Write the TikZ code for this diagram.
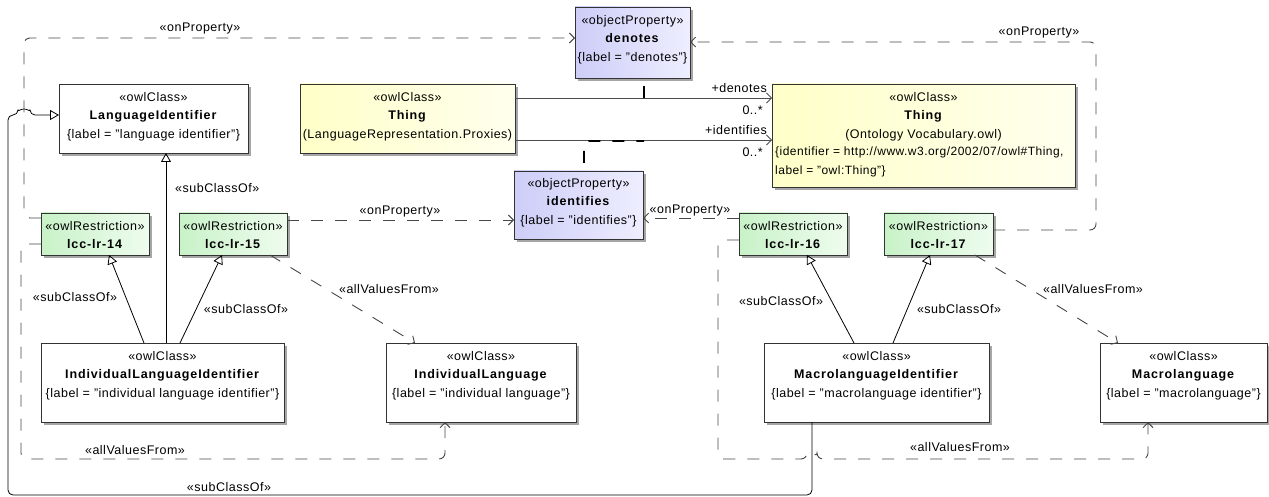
\documentclass[tikz,border=0pt]{standalone}
\usepackage{fontspec}
\setmainfont{Liberation Sans}[LetterSpace=4,BoldFeatures={LetterSpace=7}]
\usetikzlibrary{arrows.meta,shadows}
\definecolor{yelL}{RGB}{255,255,200}
\definecolor{yelR}{RGB}{255,255,238}
\definecolor{prpL}{RGB}{205,205,248}
\definecolor{prpR}{RGB}{238,238,255}
\definecolor{grnL}{RGB}{200,242,200}
\definecolor{grnR}{RGB}{238,252,238}
\begin{document}
\begin{tikzpicture}[x=1pt,y=-1pt,font=\fontsize{12.5}{18.5}\selectfont,
  box/.style={draw=black!80,line width=0.8pt,fill=white,
    drop shadow={shadow xshift=3pt,shadow yshift=-3pt,fill=black!35,opacity=1},
    anchor=north west,inner sep=0pt,outer sep=0pt},
  yel/.style={box,left color=yelL,right color=yelR},
  prop/.style={box,left color=prpL,right color=prpR},
  rst/.style={box,left color=grnL,right color=grnR},
  txt/.style={anchor=north,align=center,inner sep=0pt},
  lbl/.style={inner sep=0pt},
  gen/.style={draw=black,line width=0.8pt,-{Triangle[open,length=9pt,width=10pt]}},
  dep/.style={draw=black!72,line width=0.9pt,dash pattern=on 12pt off 12pt,
    -{Straight Barb[length=5pt,width=10pt]},rounded corners=6pt},
  asc/.style={draw=black!70,line width=0.8pt,-{Straight Barb[length=5pt,width=10pt]}},
  acl/.style={draw=black,line width=1.8pt,dash pattern=on 12pt off 12pt,dash phase=16pt}]
\useasboundingbox (0,0) rectangle (1269,497);
% boxes
\node[box,minimum width=189pt,minimum height=69pt] (li) at (59,84) {};
\node[yel,minimum width=215pt,minimum height=69pt] (thp) at (300,84) {};
\node[prop,minimum width=115pt,minimum height=71pt] (den) at (575,7) {};
\node[prop,minimum width=129pt,minimum height=68pt] (idf) at (514,171) {};
\node[yel,minimum width=303pt,minimum height=103pt] (tho) at (772,84) {};
\node[rst,minimum width=108pt,minimum height=42pt] (r14) at (41,213) {};
\node[rst,minimum width=108pt,minimum height=42pt] (r15) at (179,213) {};
\node[rst,minimum width=108pt,minimum height=42pt] (r16) at (739,213) {};
\node[rst,minimum width=109pt,minimum height=42pt] (r17) at (884,213) {};
\node[box,minimum width=243pt,minimum height=79pt] (ili) at (41,343) {};
\node[box,minimum width=190pt,minimum height=79pt] (il) at (386,343) {};
\node[box,minimum width=225pt,minimum height=79pt] (mli) at (764,343) {};
\node[box,minimum width=167pt,minimum height=79pt] (ml) at (1100,343) {};
% texts
\node[txt] (li-t) at ([yshift=-8pt]li.north) {«owlClass»\\\textbf{LanguageIdentifier}\\\{label = "language identifier"\}};
\node[txt] (thp-t) at ([yshift=-8pt]thp.north) {«owlClass»\\\textbf{Thing}\\(LanguageRepresentation.Proxies)};
\node[txt] (den-t) at ([yshift=-8pt]den.north) {«objectProperty»\\\textbf{denotes}\\\{label = "denotes"\}};
\node[txt] (idf-t) at ([yshift=-7pt]idf.north) {«objectProperty»\\\textbf{identifies}\\\{label = "identifies"\}};
\node[txt] (tho-t) at ([yshift=-8pt]tho.north) {«owlClass»\\\textbf{Thing}\\(Ontology Vocabulary.owl)};
\node[anchor=north west,align=left,inner sep=0pt,font=\fontsize{12}{18.5}\selectfont] (tho-p) at ([xshift=3pt,yshift=-63pt]tho.north west) {\{identifier = http://www.w3.org/2002/07/owl\#Thing,\\label = "owl:Thing"\}};
\node[txt] (r14-t) at ([yshift=-8pt]r14.north) {«owlRestriction»\\\textbf{lcc-lr-14}};
\node[txt] (r15-t) at ([yshift=-8pt]r15.north) {«owlRestriction»\\\textbf{lcc-lr-15}};
\node[txt] (r16-t) at ([yshift=-8pt]r16.north) {«owlRestriction»\\\textbf{lcc-lr-16}};
\node[txt] (r17-t) at ([yshift=-8pt]r17.north) {«owlRestriction»\\\textbf{lcc-lr-17}};
\node[txt] (ili-t) at ([yshift=-8pt]ili.north) {«owlClass»\\\textbf{IndividualLanguageIdentifier}\\\{label = "individual language identifier"\}};
\node[txt] (il-t) at ([yshift=-8pt]il.north) {«owlClass»\\\textbf{IndividualLanguage}\\\{label = "individual language"\}};
\node[txt] (mli-t) at ([yshift=-8pt]mli.north) {«owlClass»\\\textbf{MacrolanguageIdentifier}\\\{label = "macrolanguage identifier"\}};
\node[txt] (ml-t) at ([yshift=-8pt]ml.north) {«owlClass»\\\textbf{Macrolanguage}\\\{label = "macrolanguage"\}};
% associations
\draw[asc] (thp.east |- 0,98) -- (tho.west |- 0,98);
\draw[asc] (thp.east |- 0,140) -- (tho.west |- 0,140);
\node[lbl,anchor=east] (as1) at (767,88) {+denotes};
\node[lbl,anchor=east] (as2) at (763,110) {0..*};
\node[lbl,anchor=east] (as3) at (767,130) {+identifies};
\node[lbl,anchor=east] (as4) at (763,152) {0..*};
\coordinate (a1) at (644,98);
\coordinate (a2) at (644,141);
\draw[acl] (den.south -| a1) -- (a1);
\draw[acl,rounded corners=5pt] (idf.north -| 584,0) -- (584,141) -- (a2);
% generalizations
\draw[gen] (ili.north -| 166,0) -- (li.south -| 166,0);
\node[lbl,anchor=west] (g1) at (175,188) {«subClassOf»};
\draw[gen] (ili.north -| 144,0) -- (r14.south -| 109,0);
\node[lbl] (g2) at (75,297) {«subClassOf»};
\draw[gen] (ili.north -| 180,0) -- (r15.south -| 222,0);
\node[lbl] (g3) at (246,309) {«subClassOf»};
\draw[gen] (mli.north -| 854,0) -- (r16.south -| 807,0);
\node[lbl] (g4) at (781,301) {«subClassOf»};
\draw[gen] (mli.north -| 893,0) -- (r17.south -| 930,0);
\node[lbl] (g5) at (959,309) {«subClassOf»};
\draw[gen,rounded corners=5pt] (mli.south -| 812,0) -- (812,495) -- (8,495) -- (8,115) -- (18,115)
  arc[start angle=180,end angle=360,radius=6] -- (li.west |- 0,115);
\node[lbl] (g6) at (229,487) {«subClassOf»};
% dependencies
\draw[dep] (r14.west |- 0,218) -- (24,218) -- (24,38) -- (den.west |- 0,38);
\node[lbl] (d1) at (200,28) {«onProperty»};
\draw[dep] (r15.east |- 0,220) -- (idf.west |- 0,220);
\node[lbl] (d2) at (400,211) {«onProperty»};
\draw[dep] (r16.west |- 0,218) -- (idf.east |- 0,218);
\node[lbl] (d3) at (690,210) {«onProperty»};
\draw[dep] (r17.east |- 0,230) -- (1096,230) -- (1096,42) -- (den.east |- 0,42);
\node[lbl] (d4) at (1039,32) {«onProperty»};
\draw[dep] (r15.south -| 270,0) -- (il.north -| 415,0);
\node[lbl] (d5) at (389,289) {«allValuesFrom»};
\draw[dep] (r14.west |- 0,244) -- (21,244) -- (21,459) -- (445,459) -- (il.south -| 445,0);
\node[lbl] (d6) at (135,450) {«allValuesFrom»};
\draw[dep] (r17.south -| 975,0) -- (ml.north -| 1118,0);
\node[lbl] (d7) at (1093,289) {«allValuesFrom»};
\draw[dep] (r16.west |- 0,240) -- (718,240) -- (718,459) -- (807,459)
  arc[start angle=180,end angle=360,radius=5] -- (1148,459) -- (ml.south -| 1148,0);
\node[lbl] (d8) at (960,447) {«allValuesFrom»};
\end{tikzpicture}
\end{document}
